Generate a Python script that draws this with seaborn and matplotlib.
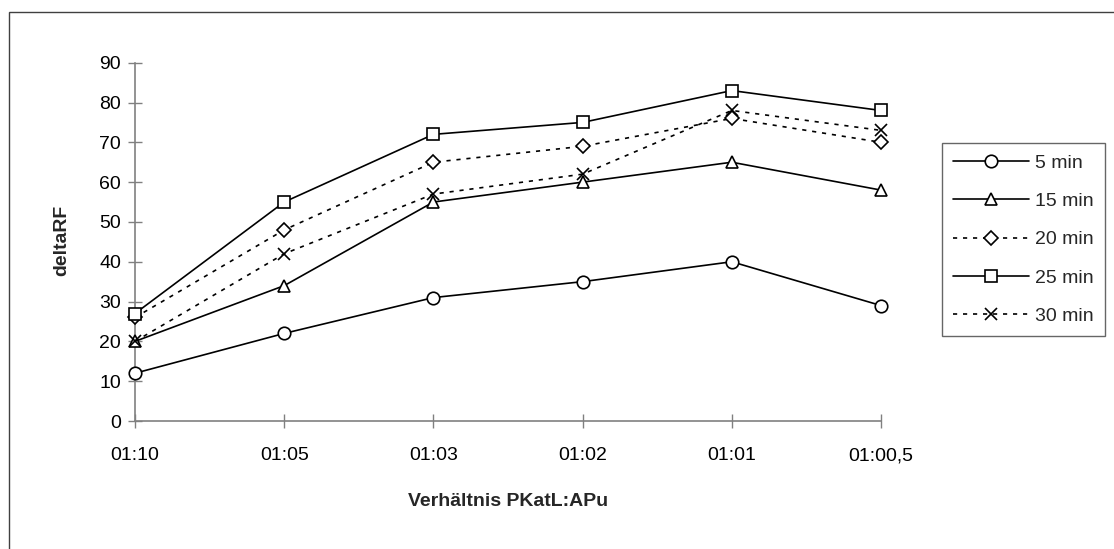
import numpy as np
import pandas as pd
import matplotlib
matplotlib.use("Agg")
import matplotlib.pyplot as plt
from matplotlib.patches import Rectangle
import seaborn as sns

categories = ["01:10", "01:05", "01:03", "01:02", "01:01", "01:00,5"]
series_labels = ["5 min", "15 min", "20 min", "25 min", "30 min"]
v5 = [12, 22, 31, 35, 40, 29]
v15 = [20, 34, 55, 60, 65, 58]
v20 = [26, 48, 65, 69, 76, 70]
v25 = [27, 55, 72, 75, 83, 78]
v30 = [20, 42, 57, 62, 78, 73]
y_ticks = [0, 10, 20, 30, 40, 50, 60, 70, 80, 90]

sns.set_theme(style="white")
plt.rcParams['font.family'] = ['Liberation Sans', 'DejaVu Sans']

W, H = 1114, 549
FS = 14
fig = plt.figure(figsize=(W / 100, H / 100), dpi=100)
ax = fig.add_axes([135 / W, 1 - 421 / H, (881 - 135) / W, (421 - 62.7) / H])

styles = {
    "5 min": dict(marker="o", linestyle="-"),
    "15 min": dict(marker="^", linestyle="-"),
    "20 min": dict(marker="D", linestyle=(0, (2.5, 3.5)), ms_scale=0.75),
    "25 min": dict(marker="s", linestyle="-"),
    "30 min": dict(marker="x", linestyle=(0, (2.5, 3.5))),
}
values = [v5, v15, v20, v25, v30]
xpos = np.arange(len(categories))
for lab, vals in zip(series_labels, values):
    st = dict(styles[lab])
    scale = st.pop("ms_scale", 1.0)
    df = pd.DataFrame({"x": xpos, "y": vals})
    sns.lineplot(data=df, x="x", y="y", ax=ax, color="black", linewidth=1.2,
                 marker=st["marker"], linestyle=st["linestyle"],
                 markersize=9 * scale, markerfacecolor="white",
                 markeredgecolor="black", markeredgewidth=1.2,
                 label=lab, legend=False, clip_on=False, zorder=3)

ax.set_xlim(0, 5)
ax.set_ylim(0, 90)
ax.set_xticks(xpos)
ax.set_xticklabels(categories)
ax.set_yticks(y_ticks)
ax.tick_params(axis="both", which="major", direction="inout", length=10, width=1,
               color="#808080", labelsize=FS, labelcolor="black",
               left=True, bottom=True)
ax.tick_params(axis="x", pad=14)
ax.tick_params(axis="y", pad=5)
for s in ["top", "right"]:
    ax.spines[s].set_visible(False)
for s in ["left", "bottom"]:
    ax.spines[s].set_color("#808080")
    ax.spines[s].set_linewidth(1.2)
ax.set_facecolor("white")
ax.set_xlabel("")
ax.set_ylabel("")

fig.text(62 / W, 1 - 240 / H, "deltaRF", rotation=90, ha="center", va="center",
         fontsize=FS, fontweight="bold")
fig.text(508 / W, 1 - 501 / H, "Verhältnis PKatL:APu", ha="center", va="center",
         fontsize=FS, fontweight="bold")

handles, labels = ax.get_legend_handles_labels()
leg = fig.legend(handles, labels, loc="upper left",
                 bbox_to_anchor=(942 / W, 1 - 143 / H), fontsize=FS,
                 frameon=True, fancybox=False, edgecolor="#404040",
                 handlelength=3.9, labelspacing=1.06, borderpad=0.58,
                 handletextpad=0.3, borderaxespad=0)
leg.get_frame().set_linewidth(1.0)

top = 1 - 12 / H
fig.add_artist(Rectangle((9 / W, -0.2), 1.2, top + 0.2,
                         transform=fig.transFigure, fill=False,
                         edgecolor="#404040", linewidth=1.0))

fig.savefig("out.png", dpi=100, facecolor="white")
